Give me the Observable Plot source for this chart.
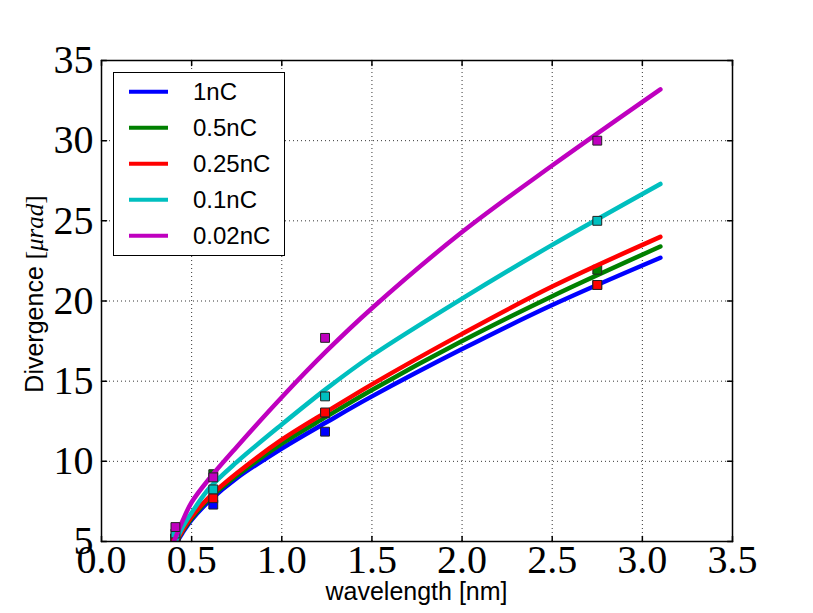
<!DOCTYPE html>
<html>
<head>
<meta charset="utf-8">
<script src="https://cdn.jsdelivr.net/npm/d3@7"></script>
<script src="https://cdn.jsdelivr.net/npm/@observablehq/plot@0.6"></script>
<style>
  html, body { margin: 0; padding: 0; background: #fff; }
  #chart { width: 813px; height: 613px; }
</style>
</head>
<body>
<div id="chart"></div>
<script>
// ---- data ----
const seriesNames = ["1nC", "0.5nC", "0.25nC", "0.1nC", "0.02nC"];
const seriesColors = ["#0000ff", "#008000", "#ff0000", "#00bfbf", "#bf00bf"];

// fitted curves
const curveX = [0.4, 0.45, 0.5, 0.6, 0.75, 1.0, 1.25, 1.5, 2.0, 2.5, 3.1];
const curve1nC   = [4.6, 5.55, 6.35, 7.55, 8.95, 10.8, 12.45, 14.05, 17.0, 19.75, 22.7];
const curve05nC  = [4.65, 5.65, 6.45, 7.7, 9.1, 11.1, 12.8, 14.45, 17.5, 20.3, 23.4];
const curve025nC = [4.7, 5.7, 6.55, 7.8, 9.25, 11.35, 13.1, 14.8, 17.95, 20.9, 24.0];
const curve01nC  = [4.7, 5.9, 6.8, 8.35, 9.95, 12.3, 14.55, 16.6, 20.15, 23.5, 27.3];
const curve002nC = [4.95, 6.3, 7.45, 8.95, 10.9, 14.0, 16.9, 19.55, 24.3, 28.45, 33.2];

// measured points
const pointX = [0.41, 0.62, 1.24, 2.75];
const points1nC   = [5.2, 7.3, 11.85, 21.0];
const points05nC  = [5.2, 9.2, 13.0, 21.95];
const points025nC = [5.2, 7.7, 13.05, 21.0];
const points01nC  = [5.5, 8.25, 14.05, 25.0];
const points002nC = [5.9, 9.0, 17.7, 30.0];

const xTicks = [0, 0.5, 1.0, 1.5, 2.0, 2.5, 3.0, 3.5];
const yTicks = [5, 10, 15, 20, 25, 30, 35];
const xDomain = [0, 3.5];
const yDomain = [5, 35];

// ---- build tables ----
const curves = [curve1nC, curve05nC, curve025nC, curve01nC, curve002nC];
const pts = [points1nC, points05nC, points025nC, points01nC, points002nC];
const lineData = seriesNames.map((s, i) => curveX.map((x, j) => ({series: s, x, y: curves[i][j]})));
const dotData = seriesNames.map((s, i) => pointX.map((x, j) => ({series: s, x, y: pts[i][j]})));

const W = 813, H = 613;
const mL = 101, mR = 81, mT = 60, mB = 72;

const tickShape = {draw(ctx, l) { ctx.moveTo(0, 0); ctx.lineTo(0, -l); }};
const serif = "'Liberation Serif', 'Times New Roman', serif";
const sans = "'Liberation Sans', Arial, sans-serif";

const marks = [
  Plot.gridX(xTicks, {stroke: "black", strokeOpacity: 1, strokeWidth: 0.8, strokeDasharray: "1,3"}),
  Plot.gridY(yTicks, {stroke: "black", strokeOpacity: 1, strokeWidth: 0.8, strokeDasharray: "1,3"}),
];
seriesNames.forEach((s, i) => {
  marks.push(Plot.line(lineData[i], {x: "x", y: "y", stroke: seriesColors[i], strokeWidth: 4.5, curve: "catmull-rom", clip: true}));
  marks.push(Plot.dot(dotData[i], {x: "x", y: "y", symbol: "square", r: 5, fill: seriesColors[i], stroke: "#222", strokeWidth: 1, clip: true}));
});
marks.push(
  Plot.vector(xTicks, {x: d => d, y: yDomain[0], length: 5, rotate: 0, anchor: "start", shape: tickShape, stroke: "black"}),
  Plot.vector(xTicks, {x: d => d, y: yDomain[1], length: 5, rotate: 180, anchor: "start", shape: tickShape, stroke: "black"}),
  Plot.vector(yTicks, {y: d => d, x: xDomain[0], length: 5, rotate: 90, anchor: "start", shape: tickShape, stroke: "black"}),
  Plot.vector(yTicks, {y: d => d, x: xDomain[1], length: 5, rotate: -90, anchor: "start", shape: tickShape, stroke: "black"}),
  Plot.frame({stroke: "black", strokeWidth: 1.5}),
  Plot.axisX(xTicks, {tickSize: 0, tickPadding: 3, tickFormat: d3.format(".1f"), fontSize: 40, fontFamily: serif, fill: "black", label: null}),
  Plot.axisY(yTicks, {tickSize: 0, tickPadding: 8, tickFormat: d => String(d), fontSize: 40, fontFamily: serif, fill: "black", label: null})
);

const chart = Plot.plot({
  width: W, height: H,
  marginLeft: mL, marginRight: mR, marginTop: mT, marginBottom: mB,
  x: {domain: xDomain},
  y: {domain: yDomain},
  style: {fontFamily: sans, background: "white", overflow: "visible"},
  marks
});
document.getElementById("chart").appendChild(chart);

// axis labels and legend
const svg = d3.select(chart);
svg.append("text")
  .attr("x", mL + (W - mL - mR) / 2).attr("y", 600)
  .attr("text-anchor", "middle").attr("font-family", sans).attr("font-size", 25).attr("fill", "black")
  .text("wavelength [nm]");

const yl = svg.append("text")
  .attr("transform", `translate(43, 294) rotate(-90)`)
  .attr("text-anchor", "middle").attr("font-size", 25).attr("fill", "black");
yl.append("tspan").attr("font-family", sans).text("Divergence ");
yl.append("tspan").attr("font-family", serif).text("[");
yl.append("tspan").attr("font-family", serif).attr("font-style", "italic").text("μrad");
yl.append("tspan").attr("font-family", serif).text("]");

const lg = svg.append("g");
lg.append("rect").attr("x", 113.5).attr("y", 72.5).attr("width", 171).attr("height", 183)
  .attr("fill", "white").attr("stroke", "black").attr("stroke-width", 1);
seriesNames.forEach((s, i) => {
  const yy = 91.7 + 36 * i;
  lg.append("line").attr("x1", 129).attr("x2", 168).attr("y1", yy).attr("y2", yy)
    .attr("stroke", seriesColors[i]).attr("stroke-width", 4);
  lg.append("text").attr("x", 193).attr("y", yy + 8.5).attr("text-anchor", "start")
    .attr("font-family", sans).attr("font-size", 24).attr("fill", "black").text(s);
});
</script>
</body>
</html>
